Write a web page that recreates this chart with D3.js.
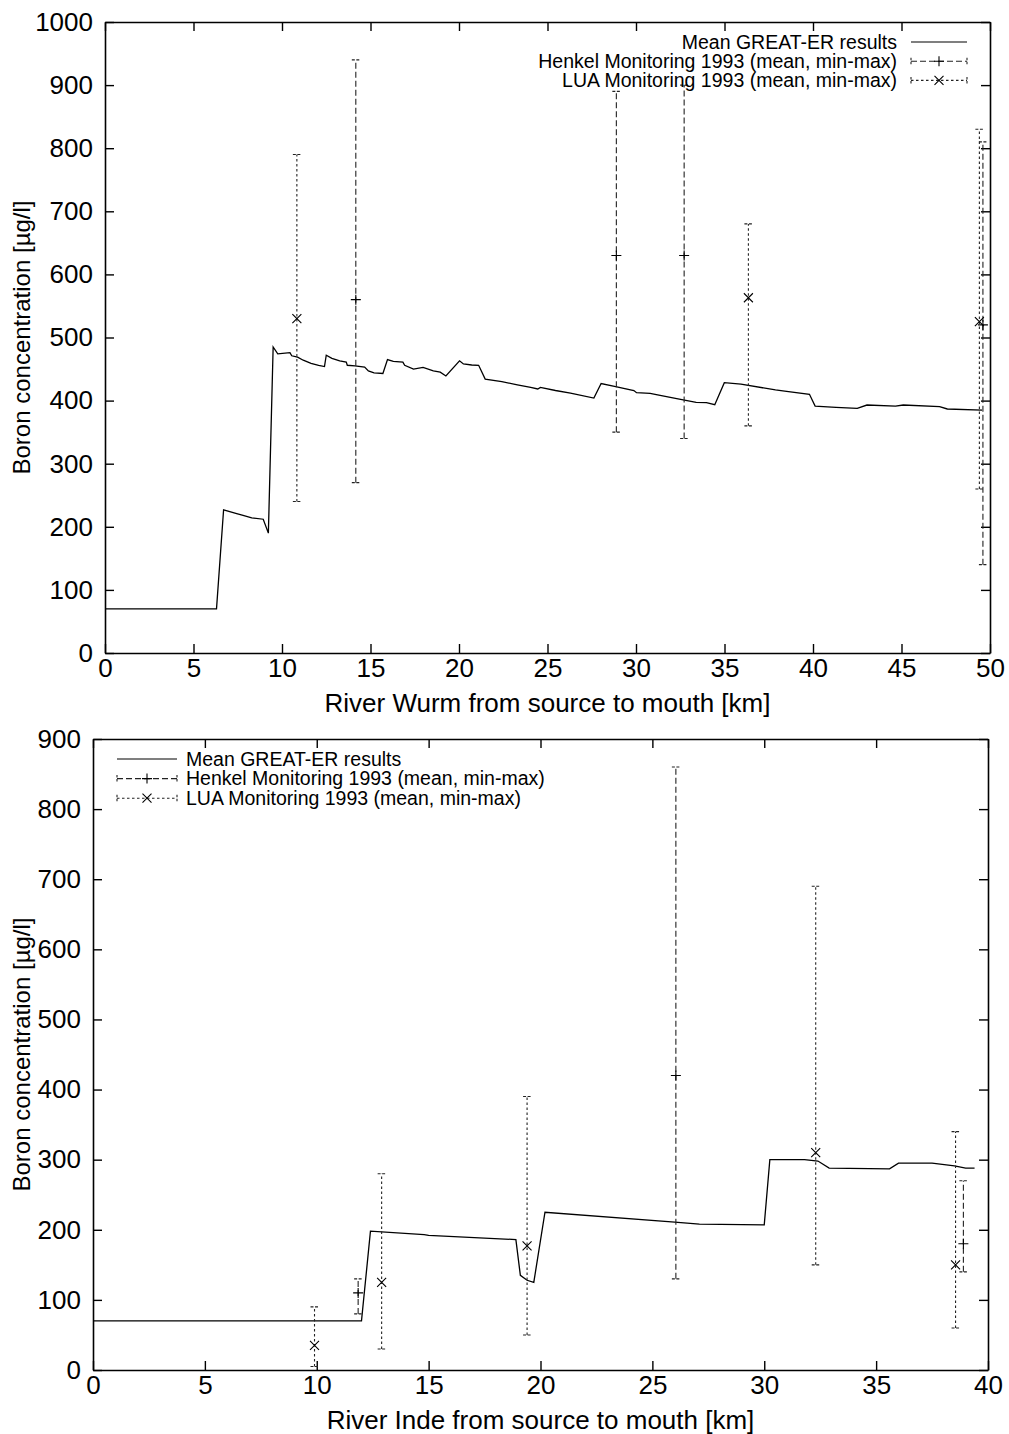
<!DOCTYPE html>
<html>
<head>
<meta charset="utf-8">
<script src="https://cdn.jsdelivr.net/npm/d3@7"></script>
<style>
  html, body { margin: 0; padding: 0; background: #fff; }
  svg { display: block; }
  text { font-family: "Liberation Sans", Arial, Helvetica, sans-serif; fill: #000; }
</style>
</head>
<body>
<svg id="chart" width="1009" height="1434"></svg>
<script>
// ---------- River Wurm ----------
const wurmKm = [0, 6.3, 6.7, 7.44, 7.8, 8.29, 8.94, 9.23, 9.5, 9.76, 10.45, 10.55, 10.88, 11.2, 11.64, 12.07, 12.4, 12.5, 12.82, 13.26, 13.63, 13.69, 14.12, 14.67, 14.88, 15.2, 15.7, 15.96, 16.29, 16.83, 16.93, 17.43, 17.97, 18.55, 18.94, 19.26, 20.03, 20.25, 20.72, 21.11, 21.48, 22.42, 23.3, 24.05, 24.45, 24.6, 25.45, 26.3, 27.62, 28.03, 28.85, 29.88, 30.03, 30.8, 31.22, 32.3, 33.4, 33.98, 34.45, 34.99, 35.93, 37.88, 38.4, 39.8, 40.12, 41.3, 42.5, 43.05, 44.66, 45.1, 47.15, 47.59, 49.55];
const wurmBoron = [70, 70, 227, 221, 218, 214, 212, 190, 485, 474, 476, 471, 469, 464, 459, 456, 454, 472, 467, 463, 461, 456, 455, 453, 447, 444, 443, 465, 462, 461, 456, 450, 452.6, 447, 445, 439, 463, 458, 456.4, 456, 434, 430, 425, 421, 418.4, 421, 416, 412, 404, 427, 422, 416, 412.5, 411.5, 409, 403, 397.3, 396.7, 393.5, 428.4, 426, 417, 415, 410, 391.4, 389.4, 387.8, 393, 391.4, 393, 390.4, 386.7, 385];

const wurmHenkelKm   = [14.17, 28.89, 32.72, 49.6];
const wurmHenkelMean = [560, 630, 630, 520];
const wurmHenkelMin  = [270, 350, 340, 140];
const wurmHenkelMax  = [940, 890, 900, 810];

const wurmLuaKm   = [10.84, 36.35, 49.4];
const wurmLuaMean = [530, 563, 525];
const wurmLuaMin  = [240, 360, 260];
const wurmLuaMax  = [790, 680, 830];

const wurmXTicks = [0, 5, 10, 15, 20, 25, 30, 35, 40, 45, 50];
const wurmYTicks = [0, 100, 200, 300, 400, 500, 600, 700, 800, 900, 1000];

// ---------- River Inde ----------
const indeKm = [0, 12.0, 12.4, 14.8, 15.0, 18.9, 19.1, 19.4, 19.7, 20.2, 26.0, 27.1, 30.0, 30.25, 31.8, 32.4, 32.9, 35.6, 36.0, 37.5, 38.5, 39.0, 39.4];
const indeBoron = [70, 70, 198, 193, 192, 186, 135, 128, 125, 225, 211, 208, 207, 300, 300, 298, 288, 287, 295, 295, 291, 288, 288];

const indeHenkelKm   = [11.85, 26.05, 38.9];
const indeHenkelMean = [110, 420, 180];
const indeHenkelMin  = [80, 130, 140];
const indeHenkelMax  = [130, 860, 270];

const indeLuaKm   = [9.9, 12.9, 19.4, 32.3, 38.55];
const indeLuaMean = [35, 125, 177, 310, 150];
const indeLuaMin  = [5, 30, 50, 150, 60];
const indeLuaMax  = [90, 280, 390, 690, 340];

const indeXTicks = [0, 5, 10, 15, 20, 25, 30, 35, 40];
const indeYTicks = [0, 100, 200, 300, 400, 500, 600, 700, 800, 900];

const legendLabels = [
  "Mean GREAT-ER results",
  "Henkel Monitoring 1993 (mean, min-max)",
  "LUA Monitoring 1993 (mean, min-max)"
];
const yTitle = "Boron concentration [µg/l]";

const HENKEL_DASH = "6,3";
const LUA_DASH = "2.5,2.5";
const BAR_COLOR = "#222";

const svg = d3.select("#chart");

function zip(xs, ys) { return xs.map((x, i) => [x, ys[i]]); }

function plusMark(g, cx, cy, r) {
  g.append("path").attr("d", `M${cx - r},${cy}H${cx + r}M${cx},${cy - r}V${cy + r}`)
    .attr("stroke", "#000").attr("stroke-width", 1.1).attr("fill", "none");
}
function crossMark(g, cx, cy, r) {
  g.append("path").attr("d", `M${cx - r},${cy - r}L${cx + r},${cy + r}M${cx - r},${cy + r}L${cx + r},${cy - r}`)
    .attr("stroke", "#000").attr("stroke-width", 1.1).attr("fill", "none");
}

function errorBars(g, x, y, km, mean, lo, hi, dash, marker) {
  const cap = 4;
  km.forEach((k, i) => {
    const px = x(k);
    g.append("line").attr("x1", px).attr("x2", px).attr("y1", y(lo[i])).attr("y2", y(hi[i]))
      .attr("stroke", BAR_COLOR).attr("stroke-width", 1.1).attr("stroke-dasharray", dash);
    [lo[i], hi[i]].forEach(v => {
      g.append("line").attr("x1", px - cap).attr("x2", px + cap).attr("y1", y(v)).attr("y2", y(v))
        .attr("stroke", BAR_COLOR).attr("stroke-width", 1.1).attr("stroke-dasharray", "3,1.5");
    });
    marker(g, px, y(mean[i]), marker === plusMark ? 5 : 4.5);
  });
}

function legendSample(g, x0, x1, cy, kind) {
  if (kind === 0) {
    g.append("line").attr("x1", x0).attr("x2", x1).attr("y1", cy).attr("y2", cy)
      .attr("stroke", "#000").attr("stroke-width", 1.2);
    return;
  }
  const dash = kind === 1 ? HENKEL_DASH : LUA_DASH;
  g.append("line").attr("x1", x0).attr("x2", x1).attr("y1", cy).attr("y2", cy)
    .attr("stroke", BAR_COLOR).attr("stroke-width", 1.1).attr("stroke-dasharray", dash);
  [x0, x1].forEach(px => {
    g.append("line").attr("x1", px).attr("x2", px).attr("y1", cy - 3.5).attr("y2", cy + 3.5)
      .attr("stroke", BAR_COLOR).attr("stroke-width", 1.1).attr("stroke-dasharray", "2.5,1.5");
  });
  const mid = (x0 + x1) / 2;
  if (kind === 1) plusMark(g, mid, cy, 5); else crossMark(g, mid, cy, 4.5);
}

function drawPanel(p) {
  const g = svg.append("g");
  const x = d3.scaleLinear().domain(p.xDomain).range([p.left, p.right]);
  const y = d3.scaleLinear().domain(p.yDomain).range([p.bottom, p.top]);
  const T = 9;

  const fmt = d3.format("d");
  const axes = [
    [d3.axisBottom(x).tickValues(p.xTicks).tickFormat(fmt).tickSizeInner(-T).tickSizeOuter(0).tickPadding(6), `translate(0,${p.bottom})`],
    [d3.axisTop(x).tickValues(p.xTicks).tickFormat("").tickSizeInner(-T).tickSizeOuter(0), `translate(0,${p.top})`],
    [d3.axisLeft(y).tickValues(p.yTicks).tickFormat(fmt).tickSizeInner(-T).tickSizeOuter(0).tickPadding(12), `translate(${p.left},0)`],
    [d3.axisRight(y).tickValues(p.yTicks).tickFormat("").tickSizeInner(-T).tickSizeOuter(0), `translate(${p.right},0)`]
  ];
  axes.forEach(([ax, tr]) => {
    const a = g.append("g").attr("transform", tr).call(ax);
    a.selectAll("path.domain").attr("stroke", "#000").attr("stroke-width", 1.6);
    a.selectAll(".tick line").attr("stroke", "#000").attr("stroke-width", 1.4);
    a.selectAll(".tick text").attr("font-size", 26).attr("font-family", "Liberation Sans, Arial, sans-serif").attr("fill", "#000");
  });

  // model line
  const line = d3.line().x(d => x(d[0])).y(d => y(d[1]));
  g.append("path").datum(zip(p.km, p.boron)).attr("d", line)
    .attr("fill", "none").attr("stroke", "#000").attr("stroke-width", 1.3).attr("stroke-linejoin", "miter");

  errorBars(g, x, y, p.henkel.km, p.henkel.mean, p.henkel.min, p.henkel.max, HENKEL_DASH, plusMark);
  errorBars(g, x, y, p.lua.km, p.lua.mean, p.lua.min, p.lua.max, LUA_DASH, crossMark);

  // axis titles
  g.append("text").attr("x", (p.left + p.right) / 2).attr("y", p.bottom + 59)
    .attr("text-anchor", "middle").attr("font-size", 26).text(p.xTitle);
  g.append("text").attr("transform", `translate(${p.yTitleX},${(p.top + p.bottom) / 2}) rotate(-90)`)
    .attr("text-anchor", "middle").attr("font-size", 24).text(yTitle);

  // key
  const lg = g.append("g");
  legendLabels.forEach((lab, i) => {
    const cy = p.legend.y0 + i * p.legend.dy;
    legendSample(lg, p.legend.sx0, p.legend.sx1, cy, i);
    lg.append("text").attr("x", p.legend.tx).attr("y", cy).attr("dy", "0.35em")
      .attr("text-anchor", p.legend.anchor).attr("font-size", 19.5).text(lab);
  });
}

drawPanel({
  left: 105, right: 990, top: 22, bottom: 653,
  xDomain: [0, 50], yDomain: [0, 1000],
  xTicks: wurmXTicks, yTicks: wurmYTicks,
  km: wurmKm, boron: wurmBoron,
  henkel: { km: wurmHenkelKm, mean: wurmHenkelMean, min: wurmHenkelMin, max: wurmHenkelMax },
  lua: { km: wurmLuaKm, mean: wurmLuaMean, min: wurmLuaMin, max: wurmLuaMax },
  xTitle: "River Wurm from source to mouth [km]",
  yTitleX: 30,
  legend: { y0: 42, dy: 19.2, sx0: 911, sx1: 967, tx: 897, anchor: "end" }
});

drawPanel({
  left: 93, right: 988, top: 739, bottom: 1370,
  xDomain: [0, 40], yDomain: [0, 900],
  xTicks: indeXTicks, yTicks: indeYTicks,
  km: indeKm, boron: indeBoron,
  henkel: { km: indeHenkelKm, mean: indeHenkelMean, min: indeHenkelMin, max: indeHenkelMax },
  lua: { km: indeLuaKm, mean: indeLuaMean, min: indeLuaMin, max: indeLuaMax },
  xTitle: "River Inde from source to mouth [km]",
  yTitleX: 30,
  legend: { y0: 759, dy: 19.6, sx0: 117, sx1: 177, tx: 186, anchor: "start" }
});
</script>
</body>
</html>
